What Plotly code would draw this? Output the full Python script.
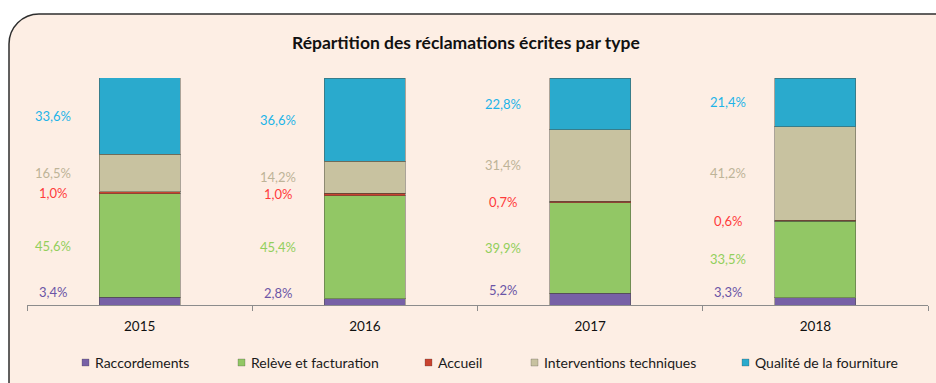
import plotly.graph_objects as go

# Written complaints by type, share of total per year (%)
years = ["2015", "2016", "2017", "2018"]
series_names = [
    "Raccordements",
    "Relève et facturation",
    "Accueil",
    "Interventions techniques",
    "Qualité de la fourniture",
]
raccordements = [3.4, 2.8, 5.2, 3.3]
releve_facturation = [45.6, 45.4, 39.9, 33.5]
accueil = [1.0, 1.0, 0.7, 0.6]
interventions = [16.5, 14.2, 31.4, 41.2]
qualite = [33.6, 36.6, 22.8, 21.4]

series_values = [raccordements, releve_facturation, accueil, interventions, qualite]
bar_colors = ["#7761A6", "#92C765", "#C9432F", "#C8C2A0", "#2AAACD"]
label_colors = ["#6B55A6", "#92CF5C", "#FF3B3B", "#BDB498", "#1DB4E8"]

FONT = "Lato"
W, H = 936, 383
L, R, T, B = 27, 8, 78, 78
PW, PH = W - L - R, H - T - B


def px(x, y):
    """Pixel position -> paper coordinates."""
    return (x - L) / PW, (H - B - y) / PH


fig = go.Figure()

for name, vals, col in zip(series_names, series_values, bar_colors):
    fig.add_trace(go.Bar(
        x=years, y=vals, name=name, width=0.36,
        marker=dict(color=col, line=dict(color="rgba(70,70,60,0.45)", width=1)),
        showlegend=False, hoverinfo="x+y+name",
    ))

# Value labels to the left of each bar, at the middle of their segment
annotations = []
for i, (vals, col) in enumerate(zip(series_values, label_colors)):
    for j, yr in enumerate(years):
        base = sum(series_values[k][j] for k in range(i))
        annotations.append(dict(
            x=j, y=base + vals[j] / 2, xref="x", yref="y",
            text=f"{vals[j]:.1f}%".replace(".", ","),
            showarrow=False, xshift=-87, yshift=9 if i == 0 else 0,
            yanchor="middle",
            font=dict(family=FONT, size=13, color=col),
        ))

# Title
tx, ty = px(466, 42)
annotations.append(dict(
    x=tx, y=ty, xref="paper", yref="paper", showarrow=False,
    xanchor="center", yanchor="middle",
    text="<b>Répartition des réclamations écrites par type</b>",
    font=dict(family=FONT, size=17.5, color="#111111"),
))

# Legend row
shapes = []
legend_x = [82, 238, 425, 531, 742]
for name, col, lx in zip(series_names, bar_colors, legend_x):
    x0, y0 = px(lx, 366)
    x1, y1 = px(lx + 7, 359)
    shapes.append(dict(type="rect", xref="paper", yref="paper",
                       x0=x0, y0=y0, x1=x1, y1=y1, fillcolor=col,
                       line=dict(color="rgba(60,60,60,0.5)", width=0.5)))
    ax, ay = px(lx + 11, 362.5)
    annotations.append(dict(
        x=ax, y=ay, xref="paper", yref="paper", showarrow=False,
        xanchor="left", yanchor="middle", text=name,
        font=dict(family=FONT, size=14, color="#1A1A1A"),
    ))

# Framed panel with a rounded top-left corner
p = [px(9, 400), px(9, 44), px(9, 27.4), px(22.4, 14), px(39, 14), px(950, 14), px(950, 400)]
frame_path = (f"M {p[0][0]},{p[0][1]} L {p[1][0]},{p[1][1]} "
              f"C {p[2][0]},{p[2][1]} {p[3][0]},{p[3][1]} {p[4][0]},{p[4][1]} "
              f"L {p[5][0]},{p[5][1]} L {p[6][0]},{p[6][1]} Z")
shapes.insert(0, dict(type="path", xref="paper", yref="paper", path=frame_path,
                      fillcolor="#FDEEE4", line=dict(color="#2E2E2E", width=1.5),
                      layer="below"))

fig.update_layout(
    width=W, height=H,
    margin=dict(l=L, r=R, t=T, b=B),
    paper_bgcolor="white",
    plot_bgcolor="rgba(0,0,0,0)",
    barmode="stack",
    showlegend=False,
    font=dict(family=FONT, size=13, color="#111111"),
    xaxis=dict(
        type="category", range=[-0.5, 3.5], showgrid=False, zeroline=False,
        showline=True, linecolor="#8C8C8C", linewidth=1,
        ticks="outside", tickson="boundaries", ticklen=5, tickcolor="#8C8C8C",
        ticklabelstandoff=9,
        tickfont=dict(family=FONT, size=13.5, color="#111111", weight="normal"),
    ),
    yaxis=dict(range=[0, 100], visible=False, fixedrange=True),
    annotations=annotations,
    shapes=shapes,
)

fig.write_html("out.html")
